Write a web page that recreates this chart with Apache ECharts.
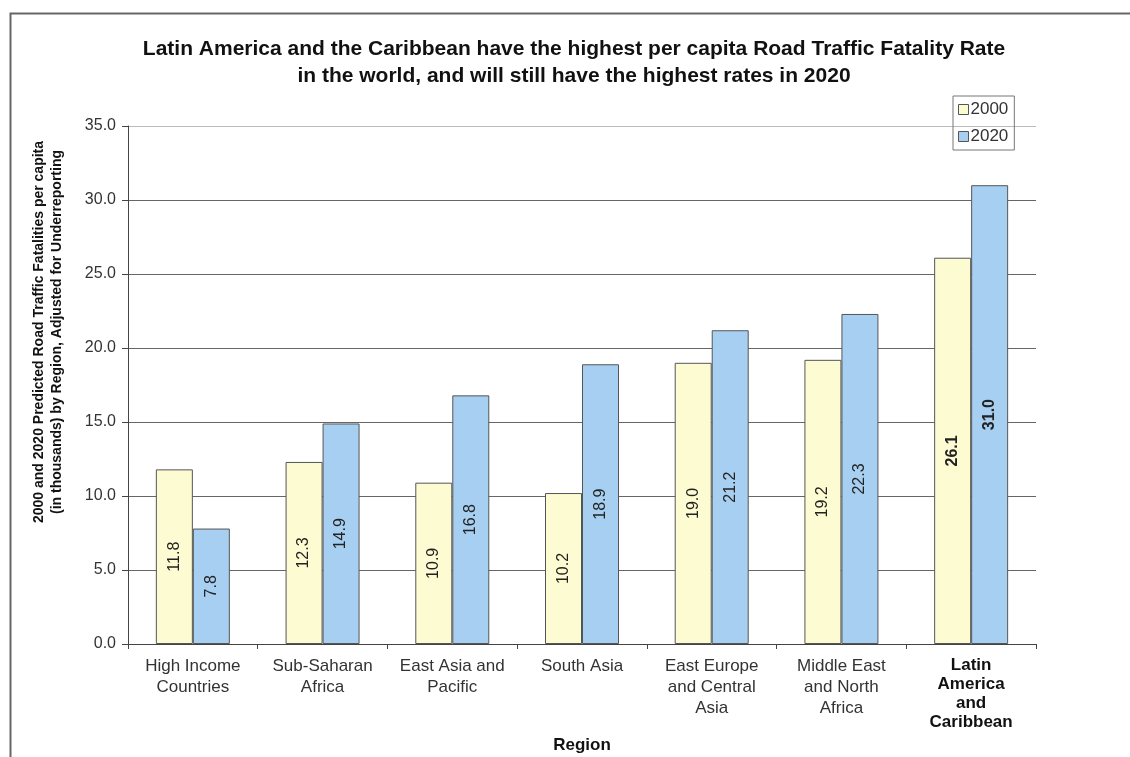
<!DOCTYPE html>
<html>
<head>
<meta charset="utf-8">
<script src="https://cdn.jsdelivr.net/npm/echarts@6/dist/echarts.min.js"></script>
<style>
    html, body {margin:0;padding:0;background:#ffffff;}
    #chart {width:1130px;height:757px;}
</style>
</head>
<body>
<div id="chart"></div>
<script>
    // chart data
    var regions = ['High Income\nCountries', 'Sub-Saharan\nAfrica', 'East Asia and\nPacific', 'South Asia',
        'East Europe\nand Central\nAsia', 'Middle East\nand North\nAfrica', 'Latin\nAmerica\nand\nCaribbean'];
    var values2000 = [11.8, 12.3, 10.9, 10.2, 19.0, 19.2, 26.1];
    var values2020 = [7.8, 14.9, 16.8, 18.9, 21.2, 22.3, 31.0];
    var yTicks = [0, 5, 10, 15, 20, 25, 30, 35];

    var FONT = '"Liberation Sans", Arial, sans-serif';
    var boldIndex = 6;

    function toItems(arr) {
        return arr.map(function (v, i) {
            var item = {value: v};
            if (i === boldIndex) {
                item.label = {fontWeight: 'bold'};
            }
            return item;
        });
    }

    var chart = echarts.init(document.getElementById('chart'));

    var barLabel = {
        show: true,
        position: 'inside',
        rotate: 90,
        fontFamily: FONT,
        fontSize: 16,
        color: '#222',
        formatter: function (p) { return p.value.toFixed(1); }
    };

    var option = {
        backgroundColor: '#ffffff',
        animation: false,
        title: {
            text: 'Latin America and the Caribbean have the highest per capita Road Traffic Fatality Rate\nin the world, and will still have the highest rates in 2020',
            left: 569,
            top: 31,
            textAlign: 'center',
            textStyle: {fontFamily: FONT, fontSize: 21, fontWeight: 'bold', color: '#111', lineHeight: 27}
        },
        legend: {
            orient: 'vertical',
            left: 953,
            top: 96,
            itemWidth: 10,
            itemHeight: 10,
            itemGap: 10,
            icon: 'rect',
            padding: [5, 6, 5, 5],
            borderColor: '#777',
            borderWidth: 1,
            itemStyle: {borderColor: '#555', borderWidth: 1},
            textStyle: {fontFamily: FONT, fontSize: 17, color: '#333', padding: [0, 0, 0, -3]},
            data: ['2000', '2020']
        },
        graphic: [
            {
                type: 'rect',
                silent: true,
                shape: {x: 10.5, y: 13.5, width: 1200, height: 800},
                style: {fill: 'none', stroke: '#666', lineWidth: 2}
            },
            {
                type: 'text',
                silent: true,
                x: 48,
                y: 332,
                rotation: Math.PI / 2,
                style: {
                    text: '2000 and 2020 Predicted Road Traffic Fatalities per capita\n(in thousands) by Region, Adjusted for Underreporting',
                    font: 'bold 14px ' + FONT,
                    fill: '#111',
                    align: 'center',
                    verticalAlign: 'middle',
                    lineHeight: 18
                }
            }
        ],
        grid: {left: 128, right: 94, top: 126, bottom: 113, outerBoundsMode: 'none'},
        xAxis: {
            type: 'category',
            data: regions,
            name: 'Region',
            nameLocation: 'middle',
            nameGap: 86,
            nameTextStyle: {fontFamily: FONT, fontSize: 17, fontWeight: 'bold', color: '#111'},
            axisLine: {lineStyle: {color: '#444', width: 1}},
            axisTick: {show: true, length: 5, lineStyle: {color: '#444'}},
            axisLabel: {
                fontFamily: FONT,
                fontSize: 17,
                color: '#333',
                lineHeight: 21,
                margin: 12,
                interval: 0,
                formatter: function (v, i) {
                    return i === boldIndex ? '{b|' + v.split('\n').join('}\n{b|') + '}' : v;
                },
                rich: {b: {fontFamily: FONT, fontSize: 17, fontWeight: 'bold', color: '#111', lineHeight: 19}}
            }
        },
        yAxis: {
            type: 'value',
            min: yTicks[0],
            max: yTicks[yTicks.length - 1],
            interval: 5,
            axisLine: {show: true, lineStyle: {color: '#444'}},
            axisTick: {show: true, length: 6, lineStyle: {color: '#444'}},
            axisLabel: {
                fontFamily: FONT,
                fontSize: 16,
                color: '#333',
                margin: 12,
                formatter: function (v) { return v.toFixed(1); }
            },
            splitLine: {
                show: true,
                lineStyle: {color: ['#666', '#666', '#666', '#666', '#666', '#666', '#666', '#bbb'], width: 1}
            }
        },
        series: [
            {
                name: '2000',
                type: 'bar',
                barWidth: 37,
                barGap: '0%',
                itemStyle: {color: '#fdfbd2', borderColor: '#555', borderWidth: 1},
                label: barLabel,
                data: toItems(values2000)
            },
            {
                name: '2020',
                type: 'bar',
                barWidth: 37,
                barGap: '0%',
                itemStyle: {color: '#a7cff1', borderColor: '#555', borderWidth: 1},
                label: barLabel,
                data: toItems(values2020)
            }
        ]
    };

    chart.setOption(option);
</script>
</body>
</html>
